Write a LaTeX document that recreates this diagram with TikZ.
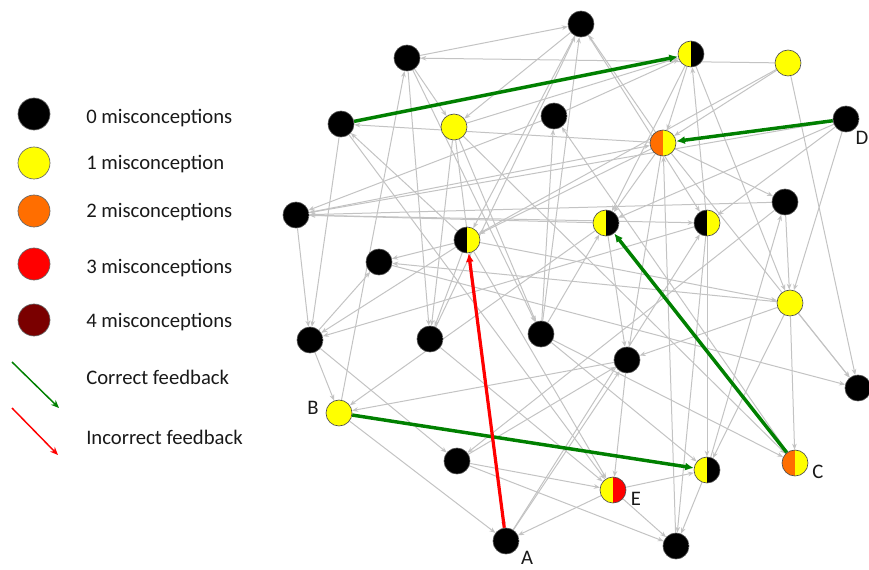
\documentclass[tikz,border=0pt]{standalone}
\usepackage{fontspec}
\setmainfont{Carlito}
\usetikzlibrary{arrows.meta,backgrounds}
\definecolor{misOne}{RGB}{255,255,0}
\definecolor{misTwo}{RGB}{255,110,0}
\definecolor{misThree}{RGB}{255,0,0}
\definecolor{misFour}{RGB}{122,0,0}
\definecolor{okgreen}{RGB}{0,128,0}
\definecolor{edgegray}{RGB}{195,195,195}
\definecolor{txt}{RGB}{25,25,25}

\begin{document}
\begin{tikzpicture}[
  x=0.75pt, y=-0.75pt,
  font=\fontsize{15.5}{18}\selectfont,
  disc/.style 2 args={circle, draw=black!70, line width=0.5pt,
                      minimum size=19.5pt, inner sep=0pt,
                      path picture={
                        \fill[fill=#1] (path picture bounding box.south west) rectangle (path picture bounding box.north);
                        \fill[fill=#2] (path picture bounding box.south) rectangle (path picture bounding box.north east);}},
  key/.style={circle, draw=black!60, line width=0.5pt, minimum size=24pt,
              inner sep=0pt, fill=#1},
  lbl/.style={anchor=base west, text=txt, inner sep=0pt},
  nlab/.style={text=txt, inner sep=0pt},
  edge/.style={draw=edgegray, line width=0.75pt, -{Stealth[length=4.5pt,width=3.5pt]}},
  good/.style={draw=okgreen, line width=2.6pt, -{Latex[length=6.5pt,width=6pt]}},
  bad/.style={draw=misThree, line width=2.4pt, -{Latex[length=6.5pt,width=6pt]}},
]
\useasboundingbox (0,0) rectangle (869,569);

% legend
\foreach \c/\y [count=\k from 0] in {black/114, misOne/163, misTwo/211, misThree/264, misFour/320} {
  \node[key=\c] (key\k) at (34,\y) {};
}
\node[lbl] (t0) at (86,123) {0 misconceptions};
\node[lbl] (t1) at (86,169) {1 misconception};
\node[lbl] (t2) at (86,217) {2 misconceptions};
\node[lbl] (t3) at (86,273) {3 misconceptions};
\node[lbl] (t4) at (86,327) {4 misconceptions};
\coordinate (g0) at (12,362); \coordinate (g1) at (59,408);
\coordinate (r0) at (12,408); \coordinate (r1) at (58,455);
\draw[draw=okgreen, line width=1.1pt, -{Stealth[length=6pt,width=5pt]}] (g0) -- (g1);
\draw[draw=misThree, line width=1.1pt, -{Stealth[length=6pt,width=5pt]}] (r0) -- (r1);
\node[lbl] (t5) at (86,384) {Correct feedback};
\node[lbl] (t6) at (86,444) {Incorrect feedback};

% students
\foreach \n/\x/\y/\l/\r in {
  a1/581/24/black/black, a2/407/58/black/black, a3/691/54/misOne/black,
  a4/788/63/misOne/misOne, a5/341/124/black/black, a6/454/127/misOne/misOne,
  a7/554/116/black/black, a8/663/143/misTwo/misOne, a9/846/119/black/black,
  a10/296/215/black/black, a11/467/240/black/misOne, a12/606/223/misOne/black,
  a13/707/223/black/misOne, a14/785/202/black/black, a15/379/262/black/black,
  a16/790/303/misOne/misOne, a17/310/340/black/black, a18/430/339/black/black,
  a19/541/334/black/black, a20/627/360/black/black, a21/858/388/black/black,
  a22/339/413/misOne/misOne, a23/457/461/black/black, a24/707/470/misOne/black,
  a25/795/463/misTwo/misOne, a26/613/490/misOne/misThree, a27/506/541/black/black,
  a28/676/546/black/black} {
  \node[disc={\l}{\r}] (\n) at (\x,\y) {};
}
\node[nlab] (labA) at (527,558) {A};
\node[nlab] (labB) at (313,408) {B};
\node[nlab] (labC) at (818,472) {C};
\node[nlab] (labD) at (862,138) {D};
\node[nlab] (labE) at (636,499) {E};

% links
\begin{scope}[on background layer]
\foreach \s/\t in {a2/a1, a4/a2, a1/a6, a2/a6, a6/a3, a8/a5, a5/a17, a11/a5,
  a10/a17, a17/a15, a11/a17, a13/a17, a16/a15, a15/a21, a11/a18, a2/a18,
  a1/a11, a12/a10, a10/a13, a14/a10, a9/a10, a19/a7, a18/a1, a19/a1, a8/a1,
  a22/a2, a2/a19, a3/a8, a3/a16, a3/a12, a13/a3, a1/a13, a4/a21, a4/a8,
  a4/a11, a5/a26, a6/a18, a6/a19, a6/a25, a25/a7, a7/a10, a10/a8, a28/a8,
  a8/a14, a8/a11, a8/a12, a9/a12, a9/a16, a9/a13, a11/a15, a11/a16, a11/a26,
  a12/a20, a19/a12, a13/a24, a13/a28, a14/a16, a24/a14, a14/a23, a16/a21,
  a16/a25, a16/a20, a16/a24, a17/a22, a17/a23, a18/a26, a12/a22, a20/a22,
  a8/a20, a20/a26, a27/a20, a23/a20, a22/a27, a23/a26, a23/a28, a26/a24,
  a24/a28, a26/a27, a26/a28, a19/a25, a6/a27, a27/a13, a19/a24, a8/a21, a7/a3} {
  \draw[edge] (\s) -- (\t);
}
\draw[good] (a5) -- (a3);
\draw[good] (a9) -- (a8);
\draw[good] (a25) -- (a12);
\draw[good] (a22) -- (a24);
\draw[bad] (a27) -- (a11);
\end{scope}
\end{tikzpicture}
\end{document}
